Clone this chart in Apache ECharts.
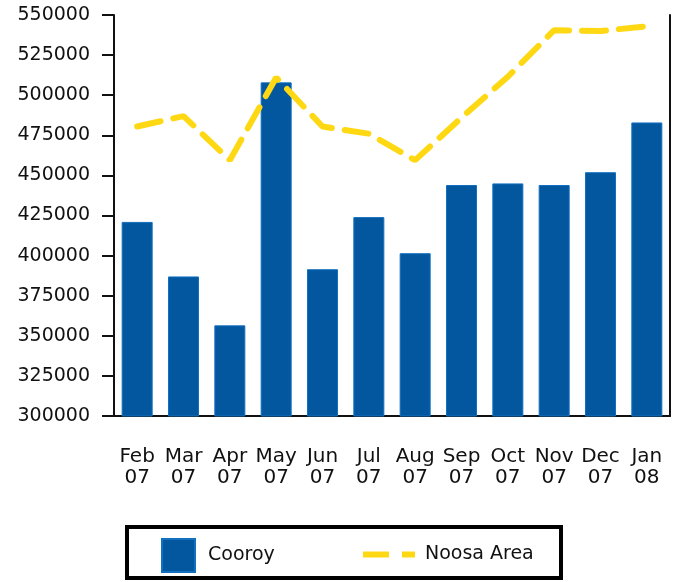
<!DOCTYPE html>
<html><head><meta charset="utf-8">
<script src="https://cdn.jsdelivr.net/npm/echarts@6/dist/echarts.min.js"></script>
<style>html,body{margin:0;padding:0;background:#fff}#c{width:680px;height:582px}</style>
</head><body><div id="c"></div>
<script>
const categories = ['Feb\n07','Mar\n07','Apr\n07','May\n07','Jun\n07','Jul\n07','Aug\n07','Sep\n07','Oct\n07','Nov\n07','Dec\n07','Jan\n08'];
const cooroy = [421000, 387000, 356500, 508000, 391500, 424000, 401500, 444000, 445000, 444000, 452000, 483000];
const noosaArea = [480500, 487000, 459500, 511000, 480500, 476000, 459500, 486000, 511500, 540500, 540000, 543000];
const yTicks = {min: 300000, max: 550000, interval: 25000};
const seriesNames = ['Cooroy', 'Noosa Area'];

const font = 'DejaVu Sans';
const chart = echarts.init(document.getElementById('c'), null, {renderer: 'canvas'});
chart.setOption({
  animation: false,
  grid: {left: 114, right: 10, top: 15, bottom: 166},
  xAxis: {
    type: 'category', data: categories,
    axisLine: {lineStyle: {color: '#111', width: 2}},
    axisTick: {alignWithLabel: true, length: 11, lineStyle: {color: '#111', width: 2}},
    axisLabel: {margin: 30, fontFamily: font, fontSize: 20, color: '#111', lineHeight: 21, interval: 0}
  },
  yAxis: [{
    type: 'value', min: yTicks.min, max: yTicks.max, interval: yTicks.interval,
    splitLine: {show: false},
    axisLine: {show: true, lineStyle: {color: '#111', width: 2}},
    axisTick: {show: true, length: 12, lineStyle: {color: '#111', width: 2}},
    axisLabel: {margin: 24, fontFamily: font, fontSize: 19, color: '#111', formatter: v => String(v)}
  }, {
    type: 'value', min: yTicks.min, max: yTicks.max, interval: yTicks.interval, position: 'right',
    splitLine: {show: false},
    axisLine: {show: true, lineStyle: {color: '#111', width: 2}},
    axisTick: {show: false}, axisLabel: {show: false}
  }],
  legend: [{
    data: [{name: seriesNames[0], icon: 'rect'}], left: 161, top: 538, padding: 0, itemWidth: 33, itemHeight: 33,
    textStyle: {fontFamily: font, fontSize: 19, color: '#111', padding: [0, 0, 0, 8]}
  }, {
    data: [{name: seriesNames[1], icon: 'path://M0,0h26v6h-26z M39,0h13v6h-13z', itemStyle: {color: '#FFD814'}}],
    left: 363, top: 545, padding: 0, itemWidth: 52, itemHeight: 33, symbolKeepAspect: true,
    textStyle: {fontFamily: font, fontSize: 19, color: '#111', padding: [0, 0, 0, 5]}
  }],
  graphic: [{
    type: 'rect', shape: {x: 127, y: 527, width: 434, height: 51},
    style: {fill: 'none', stroke: '#000', lineWidth: 4}
  }],
  series: [{
    name: seriesNames[0], type: 'bar', data: cooroy, barWidth: 31,
    itemStyle: {color: '#02579E', borderColor: '#1270C0', borderWidth: 1}
  }, {
    name: seriesNames[1], type: 'line', data: noosaArea, symbol: 'none',
    lineStyle: {color: '#FFD814', width: 6, type: [24, 13], cap: 'round'},
    itemStyle: {color: '#FFD814'}
  }]
});
</script></body></html>
